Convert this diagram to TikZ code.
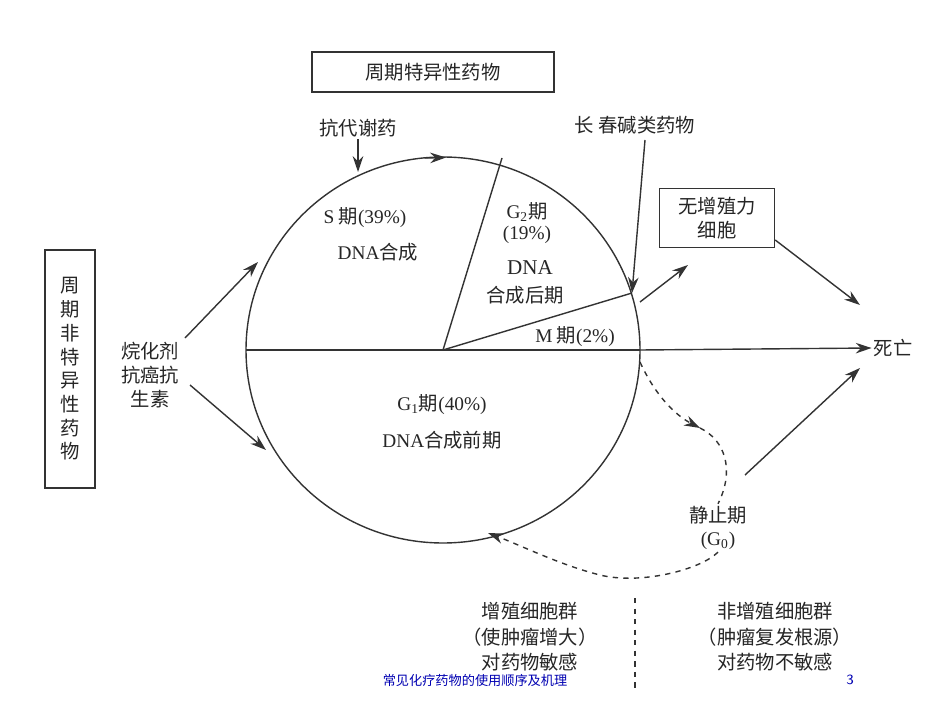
\documentclass[tikz,border=0pt]{standalone}
\usepackage{fontspec}
\setmainfont{Noto Sans CJK SC}
\newfontfamily\lat{Liberation Serif}
\usetikzlibrary{arrows.meta}
\begin{document}
\begin{tikzpicture}[x=0.02cm,y=-0.02cm,
  every node/.style={font=\fontsize{11}{13.5}\selectfont, text=black!85, inner sep=1pt},
  arr/.style={-{Stealth[length=9pt,width=6pt]}, line width=0.8pt, black!80},
  ln/.style={line width=0.8pt, black!80},
  boxn/.style={draw=black!80, line width=0.8pt, inner sep=5pt}]
\useasboundingbox (0,0) rectangle (950,713);
\fill[white] (0,0) rectangle (950,713);
% circle
\coordinate (c) at (443,350);
\draw[ln] (c) ellipse [x radius=197, y radius=193];
\coordinate (l) at (246,350); \coordinate (r) at (640,350);
\coordinate (t) at (502,158); \coordinate (m) at (632,293);
\draw[ln] (l) -- (r);
\draw[ln] (c) -- (t);
\draw[ln] (c) -- (m);
\draw[arr] (425,158) -- (446,157.5);
% top box
\node[boxn, minimum width=242*0.02cm, minimum height=40*0.02cm] (top) at (433,72) {周期特异性药物};
\node (anti) at (358,128) {抗代谢药};
\coordinate (antiE) at (358,172);
\draw[arr] (anti.south) -- (antiE);
\node (vin) at (635,125) {长 春碱类药物};
\draw[arr] (645,140) -- (m);
% labels
\node at (365,218) {{\lat S} 期{\lat (39\%)}};
\node at (378,252) {{\lat DNA}合成};
\node at (527,212) {{\lat G\textsubscript{2}}期};
\node at (527,235) {{\lat (19\%)}};
\node at (530,268) {{\lat\large DNA}};
\node at (525,295) {合成后期};
\node at (575,337) {{\lat M} 期{\lat (2\%)}};
\node at (442,405) {{\lat G\textsubscript{1}}期{\lat (40\%)}};
\node at (442,440) {{\lat DNA}合成前期};
% right side
\node[boxn, align=center, minimum width=115*0.02cm] (nop) at (717,218) {无增殖力\\细胞};
\draw[arr] (640,302) -- (688,265);
\node (death) at (893,348) {死亡};
\draw[arr] (r) -- (death.west);
\draw[arr] (nop.east |- 0,240) -- (860,305);
\node[align=center] (g0) at (718,528) {静止期\\{\lat (G\textsubscript{0})}};
\draw[arr, dashed] (640,362) .. controls (655,395) and (675,415) .. (700,428);
\draw[ln, dashed] (700,428) .. controls (725,440) and (735,470) .. (g0.north);
\draw[arr] (745,475) -- (860,368);
\draw[arr, dashed] (g0.south) .. controls (700,570) and (640,585) .. (600,575) .. controls (560,565) and (520,545) .. (488,533);
% left side
\node[boxn, align=center, inner sep=6pt, minimum width=50*0.02cm, minimum height=238*0.02cm] (ns) at (70,369) {周\\期\\非\\特\\异\\性\\药\\物};
\node[align=center] (alk) at (150,375) {烷化剂\\抗癌抗\\生素};
\draw[arr] (185,338) -- (258,262);
\draw[arr] (190,385) -- (266,450);
% bottom
\node[align=center, font=\fontsize{11}{14.5}\selectfont] (pro) at (530,637) {增殖细胞群\\（使肿瘤增大）\\对药物敏感};
\node[align=center, font=\fontsize{11}{14.5}\selectfont] (non) at (775,637) {非增殖细胞群\\（肿瘤复发根源）\\对药物不敏感};
\coordinate (d1) at (635,598); \coordinate (d2) at (635,690);
\draw[ln, dashed, line width=1.2pt] (d1) -- (d2);
\node[text=blue!70!black, font=\fontsize{7.5}{9}\selectfont] (foot) at (475,680) {常见化疗药物的使用顺序及机理};
\node[text=blue!70!black, font=\fontsize{8}{9}\selectfont\sffamily] (pg) at (850,680) {3};
\end{tikzpicture}
\end{document}
